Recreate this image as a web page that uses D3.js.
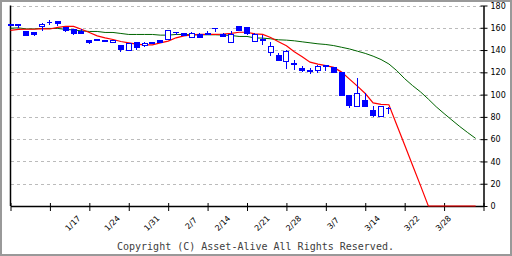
<!DOCTYPE html>
<html>
<head>
<meta charset="utf-8">
<script src="https://cdn.jsdelivr.net/npm/d3@7"></script>
<style>
body { margin: 0; background: #fff; }
svg { display: block; }
</style>
</head>
<body>
<script>
// daily candles, index 0 .. 48 (last one is 3/14)
const openP  = [163, 162.5, 156.3, 156, 160.8, 164.4, 166, 160.4, 158.7, 156.9,
                148.9, 149.5, 148.9, 146.5, 144.4, 139.6, 147.1, 144.1, 147.1, 148.9,
                149.5, 155.7, 154.5, 150.9, 154, 154.8, 159.4, 154.2, 146.5, 161.4,
                160.3, 147.4, 149.8, 138.1, 134.7, 129.4, 128, 123.5, 122, 121.3,
                125.8, 124, 119.9, 99.6, 89, 95, 85.5, 80.1, 87.6]
const highP  = [163.5, 162.5, 156.3, 156, 164.1, 166.8, 166, 161, 158.7, 158.7,
                148.9, 149.5, 148.9, 148.9, 144.4, 145.6, 147.1, 147.1, 147.5, 148.9,
                157.9, 155.7, 155, 156, 155.1, 156.8, 159.4, 155.7, 157, 161.4,
                160.3, 155.5, 153.4, 147.1, 137.8, 139.8, 130.8, 125.8, 123.5, 127,
                127, 124, 119.9, 99.6, 115, 101, 89.7, 89.7, 89]
const lowP   = [161.5, 160, 152.7, 152.7, 157.2, 162.3, 161.4, 156.3, 153.4, 154.9,
                145.6, 147.7, 147.4, 146.5, 138.4, 139.6, 140.2, 142.9, 145.6, 147.1,
                149.5, 153.3, 152.7, 150.9, 151.3, 154, 156.3, 152.5, 146.5, 157.2,
                153.6, 147.4, 144.4, 134.7, 130.2, 122.9, 121.9, 120.1, 118.9, 119,
                121.3, 119.6, 99.6, 88.2, 89, 89, 79.6, 80.1, 82.5]
const closeP = [162, 162, 152.7, 154.2, 163.2, 164.4, 164, 157.4, 154.9, 154.9,
                147.1, 149, 147.4, 148.9, 140.2, 145.6, 142.3, 146.2, 145.6, 147.1,
                157.9, 155.4, 153.5, 154.8, 151.3, 154, 159.2, 152.5, 154.2, 157.2,
                154.9, 153.6, 148.3, 143.2, 130.2, 138.9, 127.4, 121.9, 121, 125.6,
                124.9, 119.6, 99.6, 90.6, 101, 89, 81.6, 89.7, 87.6]

// moving averages, index 0 .. 59
const ma5  = [157.6, 158.5, 158.7, 158.7, 159.2, 158.9, 160.4, 161.3, 161.3, 158.7,
              155.8, 152.7, 151, 149.5, 147.7, 146.5, 145.3, 144.7, 144.7, 146.5,
              148, 151, 152.7, 153.6, 154, 154, 154, 154.3, 154.9, 156,
              156, 154.5, 154, 151.3, 147.4, 143.8, 138.4, 133.9, 129.1, 127.4,
              126, 124.4, 120.2, 113.9, 107.6, 101, 92.6, 91.2, 90.9, 72.8,
              54.7, 36.6, 18.5, 0, 0, 0, 0, 0, 0, 0]
const ma25 = [159.6, 159.9, 159, 159, 159.4, 159.4, 159.4, 158.5, 158.1, 157.2,
              156.7, 156.7, 155.8, 155.8, 154.9, 154, 154, 154, 154, 153.4,
              153.4, 154, 154, 153.7, 153.7, 153.7, 153.7, 153.4, 153.1, 152.2,
              152.2, 150.9, 150.7, 150.1, 149.2, 148.9, 148.3, 147.4, 146.5, 145.6,
              145, 144, 142.5, 141, 139, 137, 134.5, 131.5, 127.5, 121.5,
              114.3, 108.1, 102.5, 96, 89.1, 83, 77.1, 71.3, 65.9, 60.7]

const yTicks = [0, 20, 40, 60, 80, 100, 120, 140, 160, 180]
const weekTicks = [0, 5, 10, 15, 20, 25, 30, 35, 40, 45, 50, 55, 60]
const dateLabels = ["1/17", "1/24", "1/31", "2/7", "2/14", "2/21", "2/28", "3/7", "3/14", "3/22", "3/28"]
const dateIdx    = [10, 15, 20, 25, 29, 34, 38, 43, 48, 53, 57]
const copyright = "Copyright (C) Asset-Alive All Rights Reserved."

const candles = openP.map((o, i) => ({i: i, o: o, h: highP[i], l: lowP[i], c: closeP[i]}))

const svg = d3.select('body').append('svg')
    .attr('width', 512)
    .attr('height', 256)

svg.append('rect')
    .attr('x', 1).attr('y', 1)
    .attr('width', 510).attr('height', 254)
    .style('fill', '#fff')
    .style('stroke', '#999')
    .style('stroke-width', '2px')

let x = d3.scaleLinear().domain([0, 60]).range([10.5, 483.5])
let y = d3.scaleLinear().domain([0, 180]).range([206, 5.5])

// dashed grid
svg.append('g').selectAll('line')
    .data(yTicks.filter(d => d > 0))
    .join('line')
    .attr('x1', x(0)).attr('x2', x(60))
    .attr('y1', d => Math.round(y(d)) + 0.5)
    .attr('y2', d => Math.round(y(d)) + 0.5)
    .style('stroke', '#bbb')
    .style('stroke-dasharray', '3,3')
    .style('shape-rendering', 'crispEdges')

// left frame line
svg.append('line')
    .attr('x1', x(0)).attr('x2', x(0))
    .attr('y1', y(180)).attr('y2', y(0))
    .style('stroke', '#000')
    .style('stroke-width', '1.5px')

// bottom axis
let xAxis = svg.append('g')
    .attr('transform', `translate(0,${y(0)})`)
    .call(d3.axisBottom(x).tickValues(weekTicks).tickSize(5).tickSizeOuter(0).tickFormat(''))
xAxis.selectAll('.tick line').attr('y1', -3)
xAxis.select('.domain').style('stroke-width', '1.5px')

// right axis
let yAxis = svg.append('g')
    .attr('transform', `translate(${x(60)},0)`)
    .call(d3.axisRight(y).tickValues(yTicks).tickSize(4).tickSizeOuter(0).tickPadding(3))
yAxis.selectAll('.tick line').attr('x1', -3)
yAxis.select('.domain').style('stroke-width', '1.5px')
yAxis.selectAll('text')
    .style('font-family', 'DejaVu Sans')
    .style('font-size', '8px')
    .style('fill', '#000')

// date labels
svg.append('g').selectAll('text')
    .data(dateLabels)
    .join('text')
    .attr('transform', (d, k) => `translate(${x(dateIdx[k]) - 16.3},223.5) rotate(-45)`)
    .attr('text-anchor', 'middle')
    .attr('dominant-baseline', 'central')
    .style('font-family', 'DejaVu Sans')
    .style('font-size', '8px')
    .style('fill', '#000')
    .text(d => d)

// moving averages
let line = d3.line().x((d, i) => x(i)).y(d => y(d))
svg.append('path')
    .attr('d', line(ma25))
    .style('fill', 'none')
    .style('stroke', '#006400')
    .style('stroke-width', '1px')
svg.append('path')
    .attr('d', line(ma5))
    .style('fill', 'none')
    .style('stroke', '#ff0000')
    .style('stroke-width', '1.2px')

// candles
let cg = svg.append('g').style('shape-rendering', 'crispEdges')
cg.selectAll('line')
    .data(candles)
    .join('line')
    .attr('x1', d => x(d.i)).attr('x2', d => x(d.i))
    .attr('y1', d => y(d.h)).attr('y2', d => y(d.l))
    .style('stroke', '#0000ff')
cg.selectAll('path')
    .data(candles)
    .join('path')
    .attr('d', d => {
        let x0 = x(d.i) - 2.5, x1 = x(d.i) + 2.5
        let y0 = y(Math.max(d.o, d.c)), y1 = y(Math.min(d.o, d.c))
        return `M${x0},${y0}H${x1}V${y1}H${x0}Z`
    })
    .style('fill', d => d.c < d.o ? '#0000ff' : '#fff')
    .style('stroke', '#0000ff')

svg.append('text')
    .attr('x', 117)
    .attr('y', 249.5)
    .style('font-family', 'DejaVu Sans Mono')
    .style('font-size', '10px')
    .style('fill', '#404040')
    .text(copyright)
</script>
</body>
</html>
